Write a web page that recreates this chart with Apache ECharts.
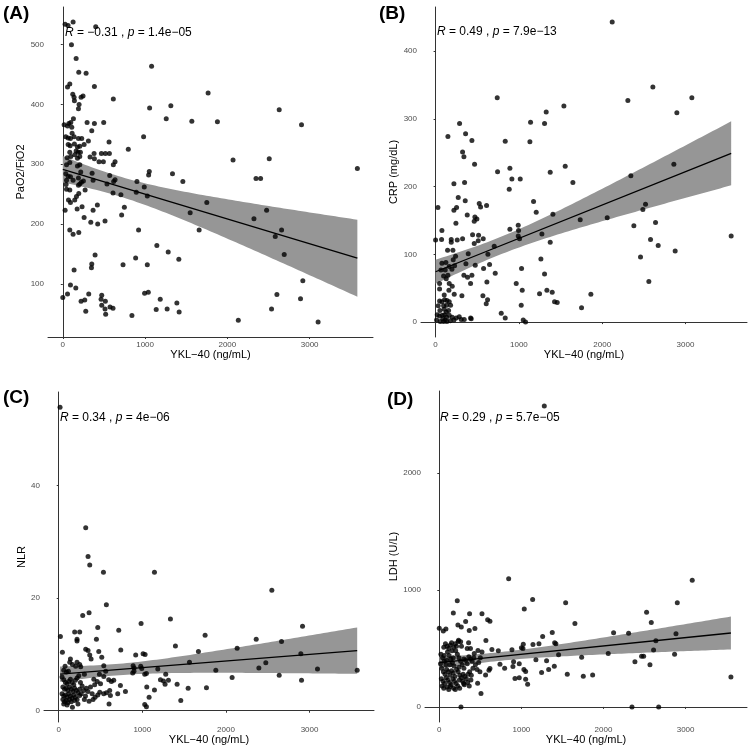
<!DOCTYPE html>
<html><head><meta charset="utf-8">
<script src="https://cdn.jsdelivr.net/npm/echarts@6/dist/echarts.min.js"></script>
<style>html,body{margin:0;padding:0;background:#fff}#c{width:749px;height:749px}</style>
</head><body><div id="c"></div>
<script>
// ---------- data (YKL-40 ng/mL, marker) ----------
const panelA = [
[28,534],[125,538],[64,532],[400,530],
[105,500],[162,477],[194,454],[283,452],[57,429],[85,434],[384,430],[1079,464],
[121,417],[137,412],[141,406],[222,412],[246,414],[198,400],[190,393],[614,409],
[1055,394],[1313,398],[1766,419],[2630,391],
[16,366],[57,364],[73,368],[109,362],[97,370],[129,376],[295,370],[384,368],[497,370],
[113,352],[352,356],[982,346],[1257,376],[1568,372],[1879,371],[2901,366],
[36,346],[65,344],[93,343],[137,346],[190,343],[230,343],
[65,333],[89,331],[141,334],[178,329],[206,330],[259,333],[311,339],[562,337],[796,325],
[85,320],[162,322],[186,320],[214,320],[145,316],[331,312],[380,318],[384,309],[469,318],[517,318],
[440,304],[493,304],[566,318],[53,311],[97,313],[178,310],[206,313],
[45,299],[85,303],[178,297],[206,299],[635,304],[614,299],
[570,281],[635,274],[618,271],[218,287],[356,285],[1333,284],[1051,288],[1043,282],[3580,293],[2069,307],[2509,309],
[36,284],[65,280],[93,279],[125,273],[45,273],[190,277],[226,270],[250,272],[368,273],
[190,265],[206,267],[40,266],[45,258],[85,257],[271,257],[537,267],[610,252],[706,249],[901,271],[893,253],[990,262],[1027,247],[1459,271],[2348,276],[2404,276],
[69,240],[93,236],[145,240],[166,246],[194,251],[174,225],[28,223],[234,229],[368,223],[420,232],[748,228],[1548,219],[1750,236],[2477,223],
[715,215],[259,211],[340,203],[424,200],[513,205],[2323,209],
[85,190],[125,183],[194,186],[921,190],[1657,190],[2659,190],[2582,179],[2691,149],
[1143,164],[1281,153],[1410,141],[392,148],[352,133],[348,127],[732,132],[1027,132],[885,143],[137,123],
[93,98],[158,93],[57,83],[0,77],[315,83],[473,81],[222,71],[267,73],[465,74],[517,71],[473,64],[513,58],[574,61],[610,59],[279,54],[521,49],[840,47],
[994,84],[1039,86],[1184,74],[1135,57],[1268,58],[1386,68],[1414,53],[2133,39],[2537,58],[2602,82],[2889,75],[2917,105],[3103,36]
];
const panelB = [
[2120,443],[2608,347],[2308,327],[3076,331],[740,331],[1540,319],[1328,310],[2896,309],
[288,293],[1308,293],[1140,295],[148,274],[360,278],[436,268],[836,267],[1132,266],
[324,251],[340,244],[468,233],[892,227],[1556,230],[744,222],[1376,221],[2344,216],[2860,233],
[1648,206],[916,211],[1016,211],[884,196],[220,204],[348,206],
[28,169],[220,165],[252,169],[272,184],[356,179],[380,158],[524,175],[540,170],[612,172],[1176,178],[1208,162],[1408,159],
[472,155],[496,152],[464,149],[1736,151],[2060,154],[2488,166],[2520,174],[2640,147],[2380,142],
[992,143],[996,135],[892,137],[244,146],[76,135],
[72,122],[0,121],[188,122],[188,118],[260,121],[324,123],[444,129],[516,128],[572,123],[512,120],[464,116],
[992,127],[1008,123],[1276,130],[1376,118],[3548,127],[2672,113],[2580,122],[2876,105],[2460,96],[2560,60],
[704,112],[144,106],[208,106],[392,101],[628,100],[240,97],[648,85],[476,84],[364,86],[212,92],
[76,87],[124,88],[164,82],[228,83],[196,78],[64,77],[116,77],[576,79],[1032,79],[1264,93],
[340,69],[384,66],[436,69],[716,72],[1308,71],[48,57],[148,69],[96,68],[128,64],[164,57],[200,53],[420,57],[616,59],[968,57],
[48,49],[160,47],[104,40],[568,39],[316,39],[224,41],[1040,47],[1336,47],[1248,42],[1400,44],[1864,41],[1428,30],[1460,29],[624,33],[608,27],[1028,25],
[48,31],[76,30],[108,33],[136,32],[164,30],[32,24],[96,24],[132,25],[180,25],
[52,17],[104,19],[128,15],[156,17],
[20,11],[48,9],[80,10],[108,11],[132,7],[164,10],[200,7],[248,6],[284,8],[344,4],[420,6],[428,5],[308,4],
[12,3],[56,1],[96,1],[136,1],[176,2],[220,3],[88,5],[116,3],
[836,6],[1052,3],[1080,0],[788,13],[1752,21]
];
const panelC = [
[16,53.9],[323,32.5],[351,27.4],[371,25.9],[535,24.6],[1145,24.6],[2549,21.4],[570,18.8],[363,17.4],[287,16.9],[1336,16.3],
[467,14.8],[985,15.5],[2916,15.0],[718,14.3],[20,13.2],[191,14.0],[251,14.0],[1751,13.4],[2362,12.7],[451,12.7],[219,12.7],[219,12.4],[2665,12.3],
[1396,11.5],[2134,11.1],[1671,10.5],[742,10.8],[44,10.4],[323,10.9],[351,10.7],[479,10.5],[371,9.9],[387,9.2],[515,9.5],[921,9.9],[1009,10.1],[1033,10.0],[2896,10.1],
[140,9.2],[132,8.6],[219,8.6],[251,8.2],[164,8.2],[76,7.9],[203,7.9],[1564,8.6],[2477,8.5],[539,8.0],[263,7.8],[890,8.0],[902,7.6],[981,7.9],[993,7.5],[2394,7.6],[1185,7.4],[1879,7.2],[3095,7.4],[3570,7.2],
[900,7.0],[885,6.7],[60,7.2],[92,6.9],[116,7.0],[307,6.5],[487,6.5],[562,7.0],[1280,6.5],[1029,6.5],[1049,6.6],[2637,6.3],[2074,5.9],[539,6.1],[598,5.5],[630,5.2],[658,5.4],[1217,5.5],[1253,5.3],[1312,5.4],[1272,4.7],[2904,5.4],[1416,4.7],
[738,4.5],[1053,4.2],[1548,4.0],[1767,4.1],[1145,3.7],[798,3.4],[706,3.0],[1081,2.4],[1460,1.8],[610,3.6],[618,2.7],[602,1.2],[1029,1.1],[1049,0.7],[571,3.2],[539,3.0],[491,3.3],[467,2.8],[435,2.4],[411,2.0],[363,1.7],[307,2.0],[251,2.7],[164,0.6],
[40,6.0],[60,5.5],[80,5.0],[100,4.8],[120,5.2],[140,5.6],[160,5.0],[180,4.6],[200,5.4],[220,5.8],[240,6.2],[260,5.0],[280,4.4],
[50,4.2],[70,3.8],[90,4.0],[110,3.6],[130,4.2],[150,3.8],[170,3.4],[190,4.0],[210,3.6],[230,3.2],[250,3.8],[270,3.0],
[40,3.0],[60,2.6],[80,2.8],[100,2.4],[120,3.0],[140,2.6],[160,2.2],[180,2.8],[200,2.4],[220,2.0],
[50,2.0],[70,1.6],[90,1.8],[110,1.4],[130,2.0],[150,1.6],[190,1.8],[60,1.2],[100,1.0],[230,1.2],
[300,3.6],[330,4.0],[350,3.4],[320,2.6],[380,4.2],[400,3.0],[430,4.6],[460,5.2],[500,4.8],[420,5.6]
];
const panelD = [
[1279,2574],[845,1097],[3081,1083],[1137,920],[219,909],[2899,891],[1539,891],[1035,837],[171,803],[369,797],[520,797],[2525,809],[2582,723],[1652,714],
[589,746],[617,734],[321,731],[227,700],[268,683],[365,654],[434,671],[0,674],[49,649],[81,666],[1376,637],[2123,634],[2306,631],[2883,626],[1259,603],
[568,569],[235,571],[260,557],[357,549],[1405,549],[1420,540],[1214,540],[1141,534],[1023,537],[1000,506],[1019,500],[885,489],[641,491],[719,480],[471,483],[520,469],[426,457],[2058,457],[1453,446],[1734,426],[2866,451],[2464,434],[2489,434],[2610,486],[2638,566],[2383,386],[2566,360],
[1177,403],[1307,394],[905,386],[897,346],[974,369],[1401,349],[1332,320],[1246,294],[1031,320],[1052,303],[796,331],[739,366],[617,329],[605,314],[495,300],[564,274],[1559,280],[1754,263],[1868,274],[3552,257],[974,249],[922,243],[1052,237],[1076,194],[467,203],[296,200],[248,160],[508,114],[264,0],[2347,0],[2672,0],
[20,450],[40,420],[60,390],[80,360],[100,470],[120,440],[140,410],[160,380],[180,350],[200,480],[220,450],[240,420],[260,390],[280,360],[300,330],[320,400],[340,370],[360,430],[380,410],[400,390],
[30,330],[50,300],[70,280],[90,320],[110,300],[130,270],[150,310],[170,290],[190,260],[210,320],[230,300],[250,270],[270,250],[290,280],[310,260],[330,240],[350,280],[370,300],[390,270],[410,330],
[25,240],[45,220],[65,200],[85,250],[105,230],[125,210],[145,190],[165,240],[185,220],[205,200],[225,180],[245,230],[285,220],[305,190],[345,210],[365,180],[385,230],
[35,180],[55,160],[95,170],[115,150],[135,175],[175,160],[195,150],[15,370],[55,510],[75,540],[95,520],[115,500],[135,530],[155,480],[175,510],[195,540],[210,520],[150,550],[230,560],[270,520],[300,410],[340,500],[420,420],[440,360],[460,320],[480,380],[500,420],[380,500],[90,400],[130,360],[170,420],[60,440],[240,340]
];
const xTicks = [0, 1000, 2000, 3000];
const yTicksA = [100, 200, 300, 400, 500];
const yTicksB = [0, 100, 200, 300, 400];
const yTicksC = [0, 20, 40];
const yTicksD = [0, 1000, 2000];
const tags = ['(A)', '(B)', '(C)', '(D)'];
const yNames = ['PaO2/FiO2', 'CRP (mg/dL)', 'NLR', 'LDH (U/L)'];
const xName = 'YKL\u221240 (ng/mL)';
const stats = [
  '{i|R} = \u22120.31 , {i|p} = 1.4e\u221205',
  '{i|R} = 0.49 , {i|p} = 7.9e\u221213',
  '{i|R} = 0.34 , {i|p} = 4e\u221206',
  '{i|R} = 0.29 , {i|p} = 5.7e\u221205'
];
const datasets = [panelA, panelB, panelC, panelD];
const yTickSets = [yTicksA, yTicksB, yTicksC, yTicksD];

// ---------- layout ----------
const layout = [
  {grid:{left:48, top:7, width:325, height:330}, x:[-180,3770], y:[11,563], yGap:15, tag:[3,4], stat:[65,27]},
  {grid:{left:421, top:7, width:326, height:330}, x:[-175,3738], y:[-22,465], yGap:13, tag:[379,4], stat:[437,26]},
  {grid:{left:44, top:392, width:330, height:330}, x:[-176,3771], y:[-2,56.6], yGap:11, tag:[3,388], stat:[60,412]},
  {grid:{left:425, top:391, width:322, height:331}, x:[-174,3748], y:[-129,2703], yGap:17, tag:[387,390], stat:[440,412]}
];
const FONT = '"Liberation Sans", Arial, Helvetica, sans-serif';
const plain = v => String(v);

function fit(pts){
  const n = pts.length;
  let mx = 0, my = 0;
  pts.forEach(p => { mx += p[0]; my += p[1]; });
  mx /= n; my /= n;
  let sxx = 0, sxy = 0;
  pts.forEach(p => { sxx += (p[0]-mx)*(p[0]-mx); sxy += (p[0]-mx)*(p[1]-my); });
  const b = sxy/sxx, a = my - b*mx;
  let sse = 0;
  pts.forEach(p => { const r = p[1] - (a + b*p[0]); sse += r*r; });
  const s = Math.sqrt(sse/(n-2));
  const t = 1.973;
  const xs = pts.map(p => p[0]);
  const x0 = Math.min(...xs), x1 = Math.max(...xs);
  const band = [];
  const K = 80;
  for (let k = 0; k <= K; k++) {
    const x = x0 + (x1-x0)*k/K;
    const yh = a + b*x;
    const se = s*Math.sqrt(1/n + (x-mx)*(x-mx)/sxx);
    band.push([x, yh - t*se, yh + t*se]);
  }
  return {line: [[x0, a+b*x0], [x1, a+b*x1]], band};
}

const grids = [], xAxes = [], yAxes = [], series = [], titles = [];
datasets.forEach((pts, i) => {
  const L = layout[i];
  const f = fit(pts);
  grids.push(Object.assign({containLabel:false}, L.grid));
  xAxes.push({
    type:'value', gridIndex:i, min:L.x[0], max:L.x[1],
    name:xName, nameLocation:'middle', nameGap:11,
    nameTextStyle:{fontFamily:FONT, fontSize:11, color:'#000', verticalAlign:'top'},
    axisLine:{show:true, lineStyle:{color:'#333', width:1}},
    axisTick:{show:true, length:2, lineStyle:{color:'#333'}, customValues:xTicks},
    axisLabel:{fontFamily:FONT, fontSize:8, color:'#4d4d4d', margin:4, customValues:xTicks, formatter:plain},
    splitLine:{show:false}
  });
  yAxes.push({
    type:'value', gridIndex:i, min:L.y[0], max:L.y[1],
    name:yNames[i], nameLocation:'middle', nameGap:L.yGap, nameRotate:90,
    nameTextStyle:{fontFamily:FONT, fontSize:11, color:'#000'},
    axisLine:{show:true, lineStyle:{color:'#333', width:1}},
    axisTick:{show:true, length:2, lineStyle:{color:'#333'}, customValues:yTickSets[i]},
    axisLabel:{fontFamily:FONT, fontSize:8, color:'#4d4d4d', margin:4, customValues:yTickSets[i], formatter:plain},
    splitLine:{show:false}
  });
  const band = f.band;
  series.push({
    type:'custom', xAxisIndex:i, yAxisIndex:i, silent:true, z:1,
    data: band,
    encode:{x:0, y:[1,2]},
    renderItem: function(params, api){
      if (params.dataIndex !== 0) return null;
      const ptsPoly = [];
      for (let j = 0; j < band.length; j++) ptsPoly.push(api.coord([band[j][0], band[j][2]]));
      for (let j = band.length-1; j >= 0; j--) ptsPoly.push(api.coord([band[j][0], band[j][1]]));
      return {type:'polygon', shape:{points:ptsPoly}, style:{fill:'#969696'}};
    }
  });
  series.push({
    type:'scatter', xAxisIndex:i, yAxisIndex:i, data:pts, z:3,
    symbol:'circle', symbolSize:5, itemStyle:{color:'#000'}, silent:true
  });
  series.push({
    type:'line', xAxisIndex:i, yAxisIndex:i, data:f.line, z:4, symbol:'none',
    lineStyle:{color:'#000', width:1.3}, silent:true
  });
  titles.push({text:tags[i], left:L.tag[0], top:L.tag[1], padding:0,
    textStyle:{fontFamily:FONT, fontSize:19, fontWeight:'bold', color:'#000'}});
  titles.push({text:stats[i], left:L.stat[0], top:L.stat[1], padding:0,
    textStyle:{fontFamily:FONT, fontSize:12, fontWeight:'normal', color:'#000',
      rich:{i:{fontFamily:FONT, fontSize:12, fontStyle:'italic', color:'#000'}}}});
});

const chart = echarts.init(document.getElementById('c'), null, {renderer:'canvas'});
chart.setOption({
  backgroundColor:'#fff', animation:false,
  title:titles, grid:grids, xAxis:xAxes, yAxis:yAxes, series:series
});
</script></body></html>
